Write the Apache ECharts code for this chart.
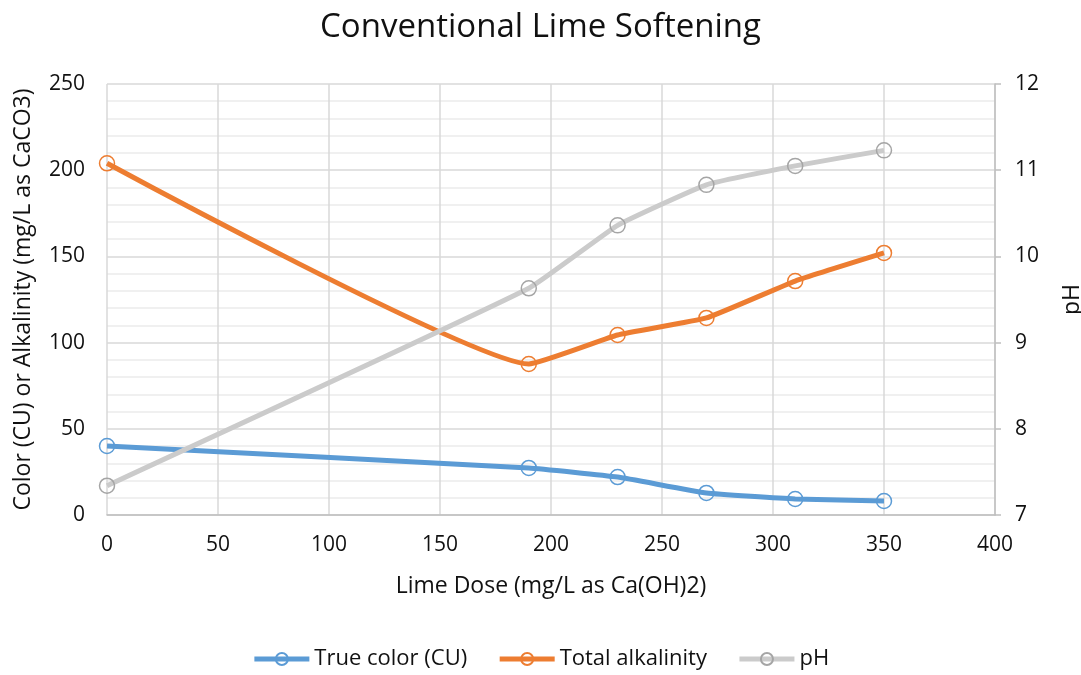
<!DOCTYPE html>
<html>
<head>
<meta charset="utf-8">
<script src="https://cdn.jsdelivr.net/npm/echarts@6/dist/echarts.min.js"></script>
<style>
    html, body { margin: 0; padding: 0; background: #fff; }
    #chart { width: 1081px; height: 675px; }
</style>
</head>
<body>
<div id="chart"></div>
<script>
    // lime dose (mg/L as Ca(OH)2)
    const doses = [0, 190, 230, 270, 310, 350]
    const trueColor = [40, 27.3, 22, 12.8, 9.3, 8.1]
    const alkalinity = [204, 87.6, 104.4, 114.3, 135.7, 152]
    const ph = [7.34, 9.63, 10.36, 10.83, 11.05, 11.23]

    const font = 'Open Sans'
    const ink = '#111'
    const pairs = vals => doses.map((d, i) => [d, vals[i]])

    const lineSeries = (name, vals, color, border, yIndex) => ({
        name: name,
        type: 'line',
        yAxisIndex: yIndex,
        data: pairs(vals),
        smooth: 0.12,
        symbol: 'circle',
        symbolSize: 15,
        lineStyle: {width: 5, color: color},
        itemStyle: {color: 'rgba(255,255,255,0)', borderColor: border, borderWidth: 1.5},
        emphasis: {disabled: true}
    })

    const chart = echarts.init(document.getElementById('chart'))
    chart.setOption({
        animation: false,
        textStyle: {fontFamily: font},
        title: {
            text: 'Conventional Lime Softening',
            left: 'center',
            top: 6,
            textStyle: {fontFamily: font, fontSize: 33, fontWeight: 'normal', color: ink}
        },
        legend: {
            bottom: 0,
            left: 'center',
            itemWidth: 55,
            itemHeight: 15,
            itemGap: 30,
            textStyle: {fontFamily: font, fontSize: 22, color: ink},
            data: [
                {name: 'True color (CU)', lineStyle: {width: 5}},
                {name: 'Total alkalinity', lineStyle: {width: 5}},
                {name: 'pH', lineStyle: {width: 5}}
            ]
        },
        grid: {left: 107, right: 86, top: 84, bottom: 160, outerBoundsMode: 'none'},
        xAxis: {
            type: 'value',
            min: 0,
            max: 400,
            interval: 50,
            name: 'Lime Dose (mg/L as Ca(OH)2)',
            nameLocation: 'middle',
            nameGap: 60,
            nameTextStyle: {fontFamily: font, fontSize: 23, color: ink},
            axisLine: {show: true, lineStyle: {color: '#bfbfbf', width: 1.5}},
            axisTick: {show: false},
            axisLabel: {fontFamily: font, fontSize: 21, color: ink, margin: 20},
            splitLine: {show: true, lineStyle: {color: '#d9d9d9', width: 1.5}}
        },
        yAxis: [
            {
                type: 'value',
                min: 0,
                max: 250,
                interval: 50,
                name: 'Color (CU) or Alkalinity (mg/L as CaCO3)',
                nameLocation: 'middle',
                nameGap: 72,
                nameRotate: 90,
                nameTextStyle: {fontFamily: font, fontSize: 23, color: ink},
                axisLine: {show: false},
                axisTick: {show: false},
                axisLabel: {fontFamily: font, fontSize: 21, color: ink, margin: 22},
                splitLine: {lineStyle: {color: '#d9d9d9', width: 1.5}},
                minorTick: {show: false, splitNumber: 5},
                minorSplitLine: {show: true, lineStyle: {color: '#ebebeb', width: 1.5}}
            },
            {
                type: 'value',
                min: 7,
                max: 12,
                interval: 1,
                position: 'right',
                name: 'pH',
                nameLocation: 'middle',
                nameGap: 66,
                nameRotate: 90,
                nameTextStyle: {fontFamily: font, fontSize: 23, color: ink},
                axisLine: {show: true, lineStyle: {color: '#bfbfbf', width: 1.5}},
                axisTick: {show: true, length: 6, lineStyle: {color: '#bfbfbf', width: 1.5}},
                axisLabel: {fontFamily: font, fontSize: 21, color: ink, margin: 20},
                splitLine: {show: false}
            }
        ],
        series: [
            lineSeries('True color (CU)', trueColor, '#5b9bd5', '#5b9bd5', 0),
            lineSeries('Total alkalinity', alkalinity, '#ed7d31', '#ed7d31', 0),
            lineSeries('pH', ph, '#cbcbcb', '#a5a5a5', 1)
        ]
    })
</script>
</body>
</html>
